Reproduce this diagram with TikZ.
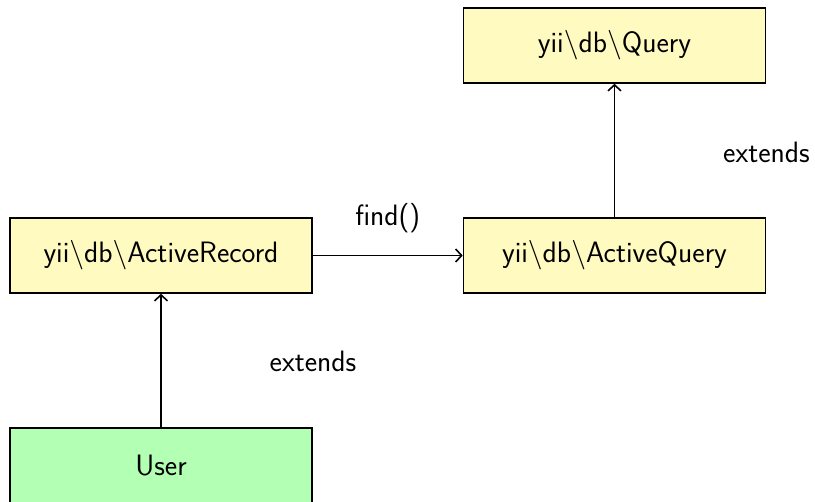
\documentclass[tikz,border=0pt]{standalone}
\usetikzlibrary{arrows.meta}
\definecolor{classfill}{HTML}{FFFAC0}
\definecolor{userfill}{HTML}{B3FFB3}
\begin{document}
\begin{tikzpicture}[x=1pt,y=-1pt,
  font=\sffamily\fontsize{29.5}{34}\selectfont,
  cls/.style={draw=black, line width=1.6pt, minimum width=302pt, minimum height=75pt, inner sep=0pt},
  conn/.style={line width=1.6pt, -{Straight Barb[length=6pt,width=13pt,line width=1.6pt]}},
  lbl/.style={inner sep=0pt}]
  \useasboundingbox (0,0) rectangle (815,502);
  % classes
  \node[cls, fill=classfill] (query)  at (614.5,45.5)  {yii\textbackslash db\textbackslash Query};
  \node[cls, fill=classfill] (aquery) at (614.5,255.5) {yii\textbackslash db\textbackslash ActiveQuery};
  \node[cls, fill=classfill] (arec)   at (161,255.5)   {yii\textbackslash db\textbackslash ActiveRecord};
  \node[cls, fill=userfill]  (user)   at (161,465.5)   {User};
  % relations
  \draw[conn] (arec) -- node[lbl, above=22pt] {find()} (aquery);
  \draw[conn] (aquery) -- node[lbl, xshift=152pt, yshift=-2pt] {extends} (query);
  \draw[conn] (user) -- node[lbl, xshift=152pt, yshift=-1pt] {extends} (arec);
\end{tikzpicture}
\end{document}
